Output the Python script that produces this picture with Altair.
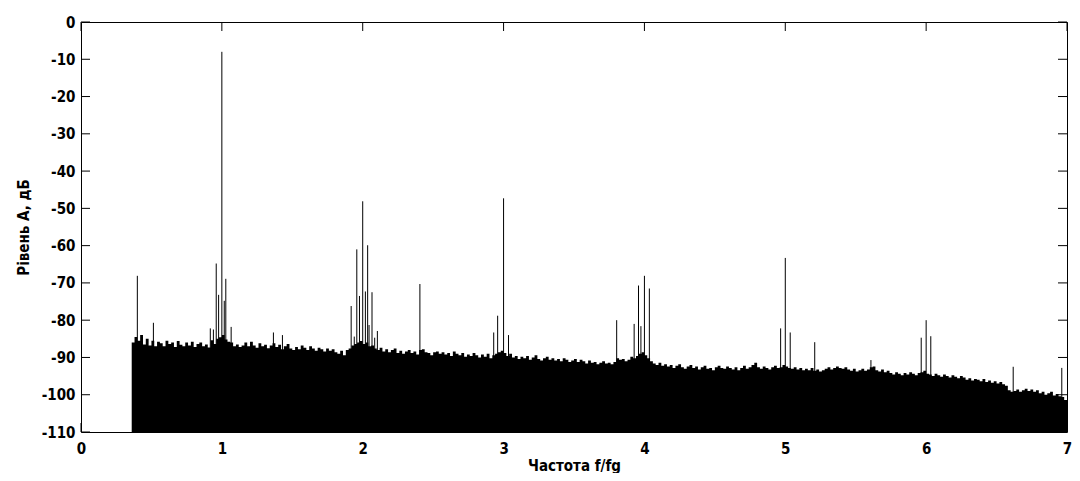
import altair as alt
import pandas as pd

# ---- data ----
floor_start = 0.36
floor_step = 0.02
floor_db = [
    -86.0, -84.5, -85.5, -84.0, -86.5, -85.0, -86.8, -85.5, -87.0, -85.8,
    -86.2, -87.0, -85.5, -86.4, -86.0, -87.2, -85.6, -86.6, -87.0, -86.0,
    -86.8, -85.8, -87.2, -86.4, -86.0, -87.0, -86.5, -87.3, -85.4, -86.4,
    -85.0, -84.6, -84.0, -85.2, -85.8, -86.0, -87.0, -86.5, -87.2, -86.8,
    -86.0, -87.0, -85.8, -86.8, -87.4, -86.2, -87.0, -86.6, -87.5, -86.8,
    -86.2, -87.2, -86.6, -87.8, -87.0, -86.4, -87.6, -88.0, -87.2, -87.8,
    -86.8, -87.4, -88.0, -87.0, -87.6, -88.2, -87.4, -87.8, -88.4, -87.6,
    -88.2, -87.8, -88.6, -89.0, -88.2, -89.4, -88.0, -87.6, -86.8, -86.4,
    -86.0, -85.6, -86.4, -86.0, -87.0, -86.8, -87.6, -88.0, -87.4, -88.4,
    -87.8, -88.6, -88.0, -87.6, -88.8, -88.2, -89.0, -88.4, -88.0, -88.8,
    -88.4, -89.2, -88.0, -87.8, -88.6, -88.8, -89.4, -88.6, -88.4, -89.0,
    -88.6, -89.2, -88.8, -89.6, -88.4, -89.0, -89.4, -88.8, -89.8, -89.2,
    -89.6, -88.8, -89.4, -90.0, -89.2, -89.8, -89.0, -90.2, -89.4, -89.0,
    -88.6, -88.2, -88.8, -89.6, -89.0, -90.0, -89.6, -90.4, -89.8, -90.2,
    -89.6, -90.6, -90.0, -89.4, -90.4, -90.8, -90.2, -89.8, -90.6, -90.2,
    -90.8, -90.4, -91.0, -90.2, -90.6, -91.2, -90.8, -90.4, -91.2, -90.6,
    -91.0, -91.6, -90.8, -91.4, -91.2, -91.8, -91.4, -91.0, -91.6, -91.4,
    -91.8, -91.2, -90.2, -90.6, -90.4, -91.0, -90.6, -89.8, -90.2, -89.6,
    -89.0, -88.6, -89.4, -90.2, -91.0, -91.6, -92.0, -91.4, -92.2, -91.8,
    -92.4, -92.0, -92.8, -92.2, -91.8, -92.6, -93.0, -92.4, -92.0, -92.8,
    -92.4, -93.2, -92.6, -92.2, -93.0, -92.8, -93.4, -92.6, -92.2, -92.8,
    -93.0, -92.4, -92.8, -93.2, -92.6, -93.4, -92.8, -92.2, -93.0, -92.6,
    -92.0, -91.4, -92.6, -93.0, -92.4, -92.8, -93.2, -92.6, -92.2, -92.8,
    -92.6, -92.0, -92.4, -92.8, -93.0, -92.6, -93.2, -92.8, -93.4, -93.0,
    -93.4, -92.8, -93.6, -93.2, -93.8, -93.4, -93.0, -92.6, -93.2, -92.8,
    -92.4, -92.8, -93.0, -92.6, -93.2, -93.6, -93.0, -93.8, -93.4, -93.0,
    -93.6, -93.2, -92.6, -92.4, -93.4, -93.8, -93.2, -94.0, -93.6, -94.2,
    -94.6, -94.0, -94.4, -94.8, -94.2, -94.6, -94.0, -94.4, -94.8, -94.2,
    -94.0, -93.6, -94.4, -94.6, -95.0, -94.4, -94.8, -95.2, -94.6, -95.0,
    -95.4, -94.8, -95.2, -95.6, -95.0, -95.4, -96.0, -95.6, -96.2, -95.8,
    -96.0, -96.4, -95.8, -96.6, -96.2, -96.8, -96.4, -97.0, -96.6, -97.2,
    -97.6, -98.8, -99.2, -99.0, -98.6, -99.2, -98.8, -98.4, -99.0, -98.6,
    -99.2, -98.8, -99.6, -99.2, -100.0, -99.6, -99.2, -100.2, -99.8, -100.4,
    -100.6, -101.4, -102.0,
]

spike_x = [0.40, 0.514, 0.918, 0.94, 0.96, 0.977, 1.00, 1.017, 1.028, 1.066,
           1.366, 1.43, 1.918, 1.94, 1.958, 1.977, 2.00, 2.019, 2.035, 2.045,
           2.066, 2.085, 2.104, 2.406, 2.93, 2.958, 3.00, 3.035, 3.803, 3.927,
           3.958, 3.975, 4.00, 4.035, 4.967, 5.00, 5.035, 5.209, 5.608, 5.965,
           6.00, 6.033, 6.618, 6.963]
spike_db = [-68.1, -80.7, -82.2, -82.5, -64.8, -73.2, -8.0, -74.8, -68.9, -81.8,
            -83.3, -84.0, -76.2, -84.4, -61.0, -73.5, -48.1, -72.3, -59.9, -81.3,
            -72.5, -84.7, -82.9, -70.3, -83.3, -78.8, -47.3, -84.0, -80.0, -81.0,
            -70.7, -81.6, -68.1, -71.5, -82.2, -63.3, -83.3, -85.9, -90.7, -84.7,
            -80.0, -84.3, -92.5, -92.8]

x_ticks = [0, 1, 2, 3, 4, 5, 6, 7]
y_ticks = [0, -10, -20, -30, -40, -50, -60, -70, -80, -90, -100, -110]
x_title = "Частота f/fg"
y_title = "Рівень A, дБ"

floor_df = pd.DataFrame({
    "f": [round(floor_start + floor_step * i, 4) for i in range(len(floor_db))],
    "db": floor_db,
})
spike_df = pd.DataFrame({"f": spike_x, "db": spike_db})
xt_df = pd.DataFrame({"f": x_ticks})
yt_df = pd.DataFrame({"db": y_ticks})

W, H, TICK = 986, 410, 9
FONT = "DejaVu Sans Condensed"
xs = alt.Scale(domain=[0, 7], nice=False, zero=False)
ys = alt.Scale(domain=[-110, 0], nice=False, zero=False)

lab = dict(grid=False, domain=False, ticks=False, labelFlush=False,
           labelFont=FONT, labelFontSize=15, labelFontWeight="bold",
           labelColor="black", labelExpr="'' + datum.value", titleFont=FONT,
           titleFontSize=15, titleFontWeight="bold", titleColor="black")
x_axis = alt.Axis(orient="bottom", values=x_ticks, title=x_title,
                  labelPadding=9, titlePadding=2, **lab)
y_axis = alt.Axis(orient="left", values=y_ticks, title=y_title,
                  labelPadding=6, titlePadding=10, **lab)

floor = alt.Chart(floor_df).mark_area(
    color="black", interpolate="step-after", opacity=1
).encode(
    x=alt.X("f:Q", scale=xs, axis=x_axis),
    y=alt.Y("db:Q", scale=ys, axis=y_axis),
    y2=alt.datum(-110),
)

spikes = alt.Chart(spike_df).mark_rule(color="black", strokeWidth=1).encode(
    x=alt.X("f:Q", scale=xs, axis=x_axis),
    y=alt.Y("db:Q", scale=ys, axis=y_axis),
    y2=alt.datum(-110),
)

# inward tick marks on all four sides (MATLAB box style)
tick_style = dict(color="black", strokeWidth=1)
xt_top = alt.Chart(xt_df).mark_rule(**tick_style).encode(
    x=alt.X("f:Q", scale=xs, axis=x_axis), y=alt.value(0), y2=alt.value(TICK))
xt_bot = alt.Chart(xt_df).mark_rule(**tick_style).encode(
    x=alt.X("f:Q", scale=xs, axis=x_axis), y=alt.value(H - TICK), y2=alt.value(H))
yt_left = alt.Chart(yt_df).mark_rule(**tick_style).encode(
    y=alt.Y("db:Q", scale=ys, axis=y_axis), x=alt.value(0), x2=alt.value(TICK))
yt_right = alt.Chart(yt_df).mark_rule(**tick_style).encode(
    y=alt.Y("db:Q", scale=ys, axis=y_axis), x=alt.value(W - TICK), x2=alt.value(W))

chart = alt.layer(floor, spikes, xt_top, xt_bot, yt_left, yt_right).properties(
    width=W, height=H,
    padding={"left": 73, "top": 14, "right": 5, "bottom": 41},
    autosize=alt.AutoSizeParams(type="none"),
    background="white",
).configure_view(stroke="black", strokeWidth=1)

chart.save("out.html", embed_options={"renderer": "svg", "actions": False})
